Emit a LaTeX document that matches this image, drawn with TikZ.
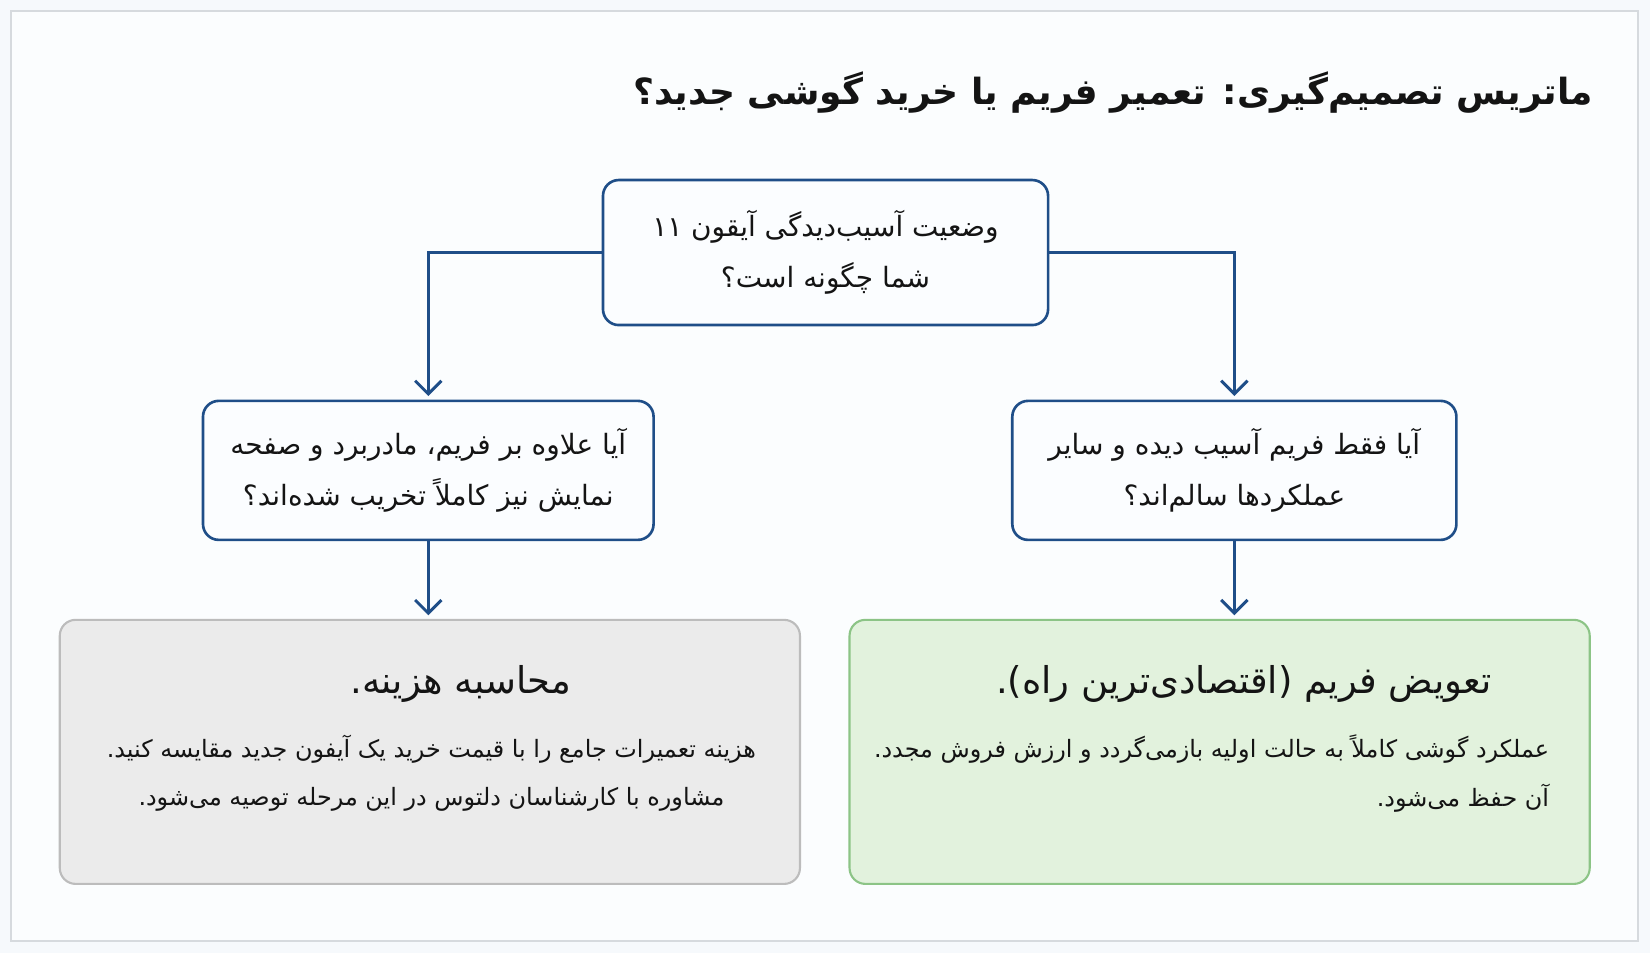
\documentclass[tikz,border=0pt]{standalone}
\usepackage{fontspec}
\setmainfont{DejaVu Sans}
\newfontfamily\farsi[Script=Arabic]{DejaVu Sans}
\TeXXeTstate=1
\usetikzlibrary{arrows.meta,positioning,shapes}
\definecolor{navy}{RGB}{31,78,136}
\definecolor{pagebg}{RGB}{246,249,252}
\definecolor{frameln}{RGB}{214,218,222}
\definecolor{boxfill}{RGB}{251,253,255}
\definecolor{costfill}{RGB}{235,235,235}
\definecolor{costln}{RGB}{188,188,188}
\definecolor{okfill}{RGB}{226,242,221}
\definecolor{okln}{RGB}{140,196,134}
\definecolor{ink}{RGB}{20,20,20}

\begin{document}
\begin{tikzpicture}[x=0.021046cm,y=-0.021046cm,
  qbox/.style={draw=navy,line width=1.5pt,rounded corners=9pt,fill=boxfill,
    minimum height=2.78cm,align=center,text=ink,
    font=\farsi\fontsize{15.9}{29}\selectfont},
  endbox/.style={line width=1.2pt,rounded corners=9pt,minimum width=14.8cm,minimum height=5.28cm},
  endhead/.style={text=ink,font=\farsi\fontsize{21}{25}\selectfont},
  endtext/.style={text=ink,font=\farsi\fontsize{13.6}{27.5}\selectfont},
  flow/.style={draw=navy,line width=1.7pt,-{Straight Barb[length=7.5pt,width=15pt]},shorten >=2pt}]
\useasboundingbox (0,0) rectangle (1568,905.6);
\fill[pagebg] (0,0) rectangle (1568,905.6);
\draw[frameln,line width=0.8pt,fill=white!60!pagebg] (10.5,10.5) rectangle (1556.5,894.2);

\node[anchor=east,text=ink,font=\farsi\bfseries\fontsize{20.5}{25}\selectfont] (title) at (1520,88)
  {\beginR ماتریس تصمیم^^^^200cگیری: تعمیر فریم یا خرید گوشی جدید؟\endR};

\node[qbox,minimum width=8.9cm,minimum height=2.9cm] (q1) at (784.5,240)
  {\beginR وضعیت آسیب^^^^200cدیدگی آیقون ۱۱\endR\\\beginR شما چگونه است؟\endR};
\node[qbox,minimum width=9.01cm] (qleft) at (407,447)
  {\beginR آیا علاوه بر فریم، مادربرد و صفحه\endR\\\beginR نمایش نیز کاملاً تخریب شده^^^^200cاند؟\endR};
\node[qbox,minimum width=8.88cm] (qright) at (1173,447)
  {\beginR آیا فقط فریم آسیب دیده و سایر\endR\\\beginR عملکردها سالم^^^^200cاند؟\endR};

\node[endbox,draw=costln,fill=costfill] (cost) at (408.5,714.5) {};
\node[endbox,draw=okln,fill=okfill] (frame) at (1159,714.5) {};

\node[endhead] (costhead) at (438,650) {\beginR محاسبه هزینه.\endR};
\node[endtext,align=center] (costtext) at (410,735)
  {\beginR هزینه تعمیرات جامع را با قیمت خرید یک آیفون جدید مقایسه کنید.\endR\\
   \beginR مشاوره با کارشناسان دلتوس در این مرحله توصیه می^^^^200cشود.\endR};

\node[endhead] (framehead) at (1182,650) {\beginR تعویض فریم (اقتصادی^^^^200cترین راه).\endR};
\node[endtext,align=right,anchor=east] (frametext) at (1478,735)
  {\beginR عملکرد گوشی کاملاً به حالت اولیه بازمی^^^^200cگردد و ارزش فروش مجدد.\endR\\
   \beginR آن حفظ می^^^^200cشود.\endR};

\draw[flow] (q1.west) -| (qleft.north);
\draw[flow] (q1.east) -| (qright.north);
\draw[flow] (qleft.south) -- (qleft.south |- cost.north);
\draw[flow] (qright.south) -- (qright.south |- frame.north);
\end{tikzpicture}
\end{document}
